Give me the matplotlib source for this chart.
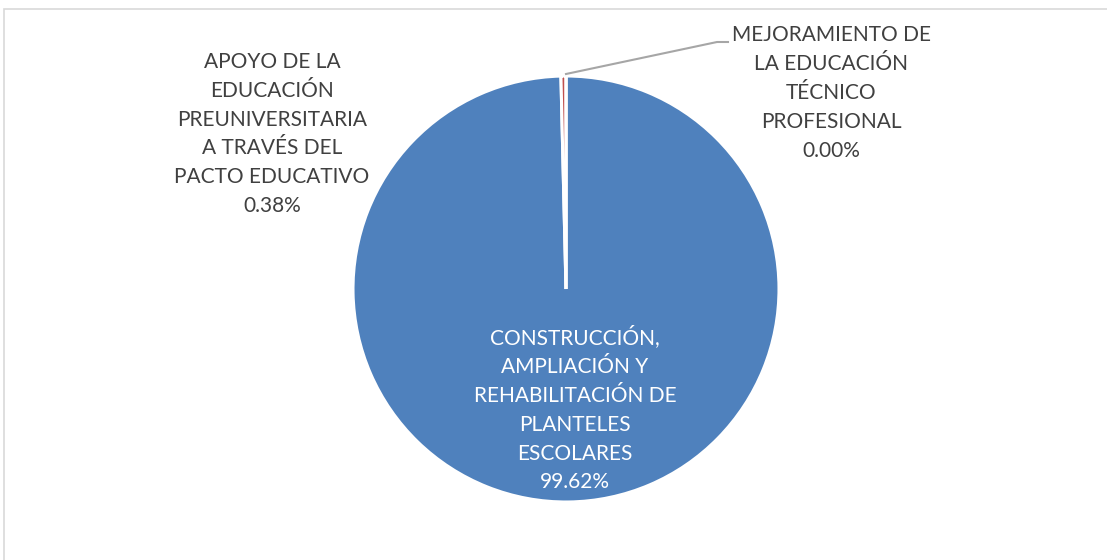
import matplotlib

matplotlib.use("Agg")
import matplotlib.pyplot as plt
import numpy as np
from matplotlib.patches import Rectangle

W, H = 1107, 560

labels = [
    "CONSTRUCCIÓN,\nAMPLIACIÓN Y\nREHABILITACIÓN DE\nPLANTELES\nESCOLARES",
    "APOYO DE LA\nEDUCACIÓN\nPREUNIVERSITARIA\nA TRAVÉS DEL\nPACTO EDUCATIVO",
    "MEJORAMIENTO DE\nLA EDUCACIÓN\nTÉCNICO\nPROFESIONAL",
]
shares = [99.62, 0.38, 0.00]
colors = ["#4f81bd", "#c0504d", "#9bbb59"]

plt.rcParams["font.family"] = ["Lato", "DejaVu Sans"]

fig = plt.figure(figsize=(W / 100, H / 100), dpi=100)

# light chart-area frame, cropped at the right/bottom like the source
fig.patches.append(Rectangle((4 / W, -0.1), 1.2, 1 - 9 / H + 0.1,
                             transform=fig.transFigure, fill=False,
                             edgecolor="#d9d9d9", linewidth=1.2))

cx, cy, r = 566, 289, 213
ax = fig.add_axes([(cx - r) / W, (H - cy - r) / H, 2 * r / W, 2 * r / H])
wedges, _ = ax.pie(shares, colors=colors, startangle=90, counterclock=False,
                   radius=1, wedgeprops=dict(edgecolor="white", linewidth=2.2))
ax.set_xlim(-1, 1)
ax.set_ylim(-1, 1)
ax.set_aspect("equal")
ax.axis("off")


def px(x, y):
    return x / W, 1 - y / H


fs = 15
ls = 1.55
# label positions (pixel centres of each text block)
pos = [(575, 409), (272, 134), (831, 93)]
tcolors = ["white", "#404040", "#404040"]
for lab, val, (x, y), c in zip(labels, shares, pos, tcolors):
    fig.text(*px(x, y), f"{lab}\n{val:.2f}%", ha="center", va="center",
             fontsize=fs, color=c, linespacing=ls)

# leader line for the 0.00% slice, from the slice at the top of the pie
ang = np.deg2rad((wedges[2].theta1 + wedges[2].theta2) / 2)
sx, sy = cx + r * np.cos(ang), cy - r * np.sin(ang) - 2
fig.lines.append(plt.Line2D([sx / W, 717 / W, 728 / W],
                            [1 - sy / H, 1 - 42 / H, 1 - 42 / H],
                            transform=fig.transFigure, color="#a6a6a6",
                            linewidth=1.5))

fig.savefig("out.png", dpi=100, facecolor="white")
